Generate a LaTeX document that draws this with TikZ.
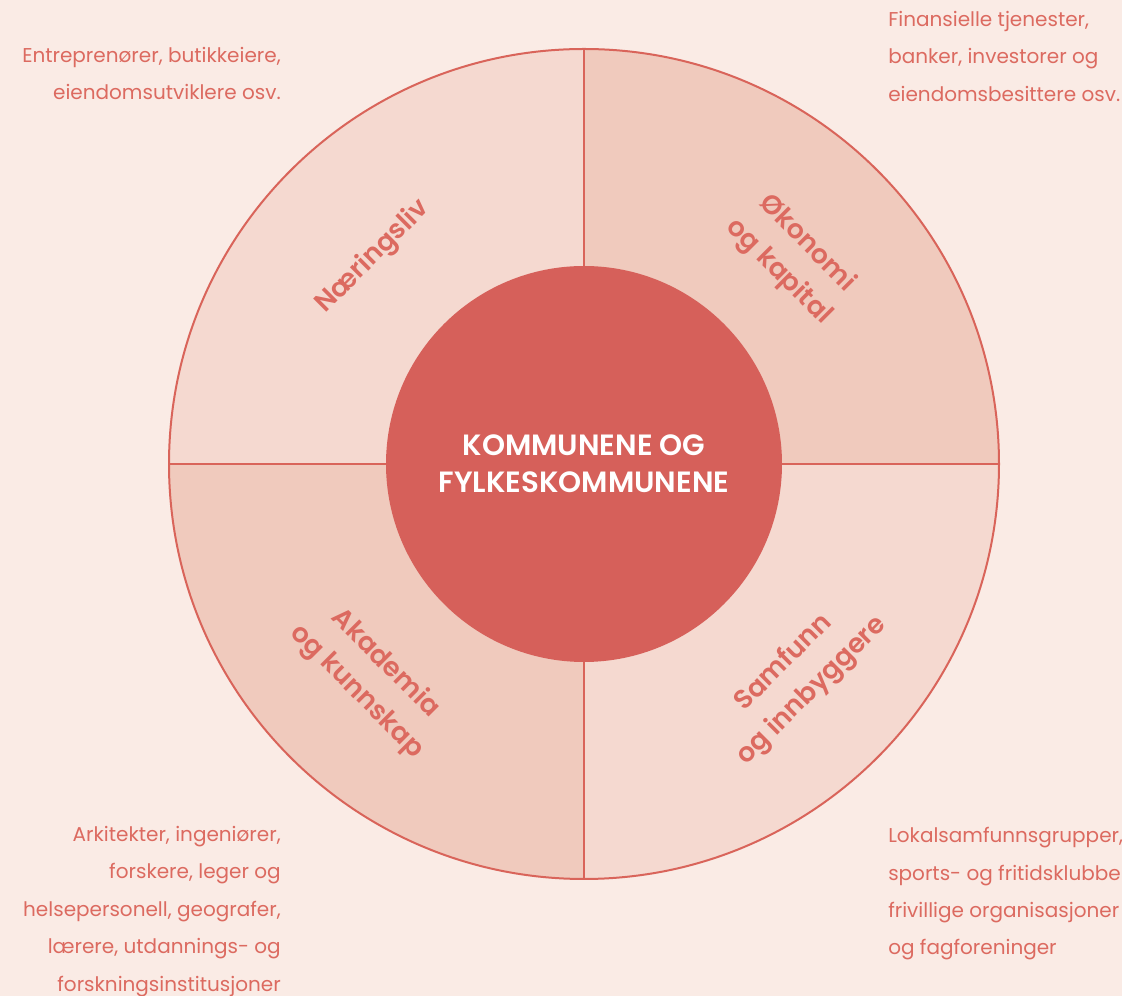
\documentclass[tikz,border=0pt]{standalone}
\usepackage{fontspec}
\setmainfont{Poppins}
\newfontfamily\medfont{Poppins}[UprightFont={* SemiBold}]

\definecolor{bgpink}{HTML}{FAEBE5}
\definecolor{lightq}{HTML}{F5D9D0}
\definecolor{darkq}{HTML}{F0CABD}
\definecolor{redline}{HTML}{D9645A}
\definecolor{redfill}{HTML}{D6605A}
\definecolor{redtext}{HTML}{DC6A60}

\begin{document}
\begin{tikzpicture}[x=0.75pt,y=0.75pt]

	\tikzstyle{ring}=[circle,draw=redline,line width=1.5pt,inner sep=0pt,outer sep=0pt,minimum size=622.5pt]
	\tikzstyle{hub}=[circle,fill=redfill,inner sep=0pt,outer sep=0pt,minimum size=297pt,text=white,align=center,font={\medfont\fontsize{22}{28}\selectfont}]
	\tikzstyle{divider}=[draw=redline,line width=1.5pt]
	\tikzstyle{sector}=[text=redtext,align=center,font={\medfont\fontsize{20}{30}\selectfont}]
	\tikzstyle{note}=[text=redtext,inner sep=0pt,font={\fontsize{15}{28.1}\selectfont}]

	\clip (0,0) rectangle (1122,996);
	\fill[bgpink] (0,0) rectangle (1122,996);

	% quadrants
	\fill[lightq] (584,532) -- (584,947) arc (90:180:415) -- cycle;
	\fill[darkq] (584,532) -- (999,532) arc (0:90:415) -- cycle;
	\fill[darkq] (584,532) -- (169,532) arc (180:270:415) -- cycle;
	\fill[lightq] (584,532) -- (584,117) arc (270:360:415) -- cycle;

	\node[ring] (ring) at (584,532) {};
	\node[hub] (hub) at (584,532) {KOMMUNENE OG\\FYLKESKOMMUNENE};

	\draw[divider] (hub.north) -- (ring.north);
	\draw[divider] (hub.south) -- (ring.south);
	\draw[divider] (hub.west) -- (ring.west);
	\draw[divider] (hub.east) -- (ring.east);

	\node[sector,rotate=45] (naering) at (373,739) {Næringsliv};
	\node[sector,rotate=-45] (okonomi) at (793,738) {Økonomi\\og kapital};
	\node[sector,rotate=-45] (akademia) at (371,318) {Akademia\\og kunnskap};
	\node[sector,rotate=45] (samfunn) at (798,319) {Samfunn\\og innbyggere};

	\node[note,anchor=north east,align=right] (tl) at (281,949) {Entreprenører, butikkeiere,\\eiendomsutviklere osv.};
	\node[note,anchor=north west,align=left] (tr) at (888,985) {Finansielle tjenester,\\banker, investorer og\\eiendomsbesittere osv.};
	\node[note,anchor=north east,align=right] (bl) at (281,170) {Arkitekter, ingeniører,\\forskere, leger og\\helsepersonell, geografer,\\lærere, utdannings- og\\forskningsinstitusjoner};
	\node[note,anchor=north west,align=left] (br) at (888,169) {Lokalsamfunnsgrupper,\\sports- og fritidsklubber,\\frivillige organisasjoner\\og fagforeninger};

\end{tikzpicture}
\end{document}
